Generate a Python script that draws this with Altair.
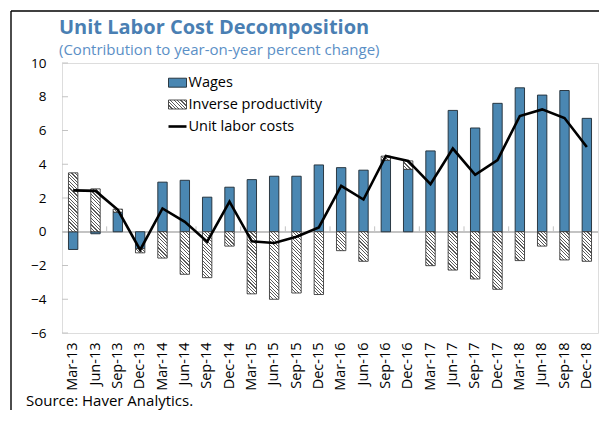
import math
import altair as alt
import pandas as pd

# ---------------- data ----------------
categories = ["Mar-13", "Jun-13", "Sep-13", "Dec-13", "Mar-14", "Jun-14", "Sep-14", "Dec-14",
              "Mar-15", "Jun-15", "Sep-15", "Dec-15", "Mar-16", "Jun-16", "Sep-16", "Dec-16",
              "Mar-17", "Jun-17", "Sep-17", "Dec-17", "Mar-18", "Jun-18", "Sep-18", "Dec-18"]
wages = [-1.05, -0.12, 1.16, -1.00, 2.94, 3.05, 2.05, 2.64, 3.09, 3.29, 3.29, 3.96,
         3.80, 3.65, 4.24, 3.70, 4.79, 7.19, 6.15, 7.61, 8.53, 8.10, 8.37, 6.72]
inverse_productivity = [3.49, 2.54, 0.18, -0.25, -1.56, -2.52, -2.72, -0.85, -3.68, -4.00, -3.63, -3.72,
                        -1.12, -1.75, 0.24, 0.50, -2.01, -2.27, -2.80, -3.41, -1.71, -0.85, -1.67, -1.75]
unit_labor_costs = [2.45, 2.42, 1.30, -1.08, 1.38, 0.59, -0.59, 1.79, -0.57, -0.67, -0.30, 0.26,
                    2.72, 1.91, 4.49, 4.20, 2.82, 4.93, 3.37, 4.24, 6.86, 7.25, 6.74, 5.02]
y_ticks = [-6, -4, -2, 0, 2, 4, 6, 8, 10]
legend_labels = ["Wages", "Inverse productivity", "Unit labor costs"]
title_text = "Unit Labor Cost Decomposition"
subtitle_text = "(Contribution to year-on-year percent change)"
source_text = "Source: Haver Analytics."

# ---------------- layout ----------------
W, H = 536, 270
YMIN, YMAX = -6, 10
PX = H / (YMAX - YMIN)
STEP = W / len(categories)
PAD_IN = 0.58
BW = STEP * (1 - PAD_IN)
FONT = "Open Sans"
BLUE = "#4a87b2"
TITLE_BLUE = "#4a7fb3"
SUB_BLUE = "#5b8fc6"
GRAY = "#c3c3c3"

# stacking like Excel (positives and negatives stacked separately)
rows = []
for c, w, p, u in zip(categories, wages, inverse_productivity, unit_labor_costs):
    pos = max(w, 0)
    neg = min(w, 0)
    if p >= 0:
        p0, p1 = pos, pos + p
    else:
        p0, p1 = neg, neg + p
    rows.append(dict(cat=c, w0=0.0, w1=w, p0=p0, p1=p1, ulc=u))
df = pd.DataFrame(rows)


def hatch(w, h, period=3.4, dark=0.34, bg="#ffffff", line="#5a5a5a"):
    """diagonal hatch as a sharp-stop linear gradient (stripes run top-left -> bottom-right)."""
    h = max(h, 0.5)
    s = (w + h) / (w * w + h * h)
    n = (w + h) / period
    stops = []
    k = 0
    while k / n < 1:
        a = k / n
        b = min((k + dark) / n, 1)
        c = min((k + 1) / n, 1)
        stops += [alt.GradientStop(offset=a, color=line), alt.GradientStop(offset=b, color=line),
                  alt.GradientStop(offset=b, color=bg), alt.GradientStop(offset=c, color=bg)]
        k += 1
    return alt.LinearGradient(gradient="linear", x1=0, y1=1, x2=w * s, y2=1 - h * s, stops=stops)


xenc = alt.X("cat:N", sort=categories,
             scale=alt.Scale(domain=categories, paddingInner=PAD_IN, paddingOuter=PAD_IN / 2),
             axis=alt.Axis(title=None, labelAngle=270, labelFontSize=14.5, labelFont=FONT,
                           labelColor="black", labelPadding=9, ticks=False, domain=False,
                           grid=False, labelOverlap=False))
yscale = alt.Scale(domain=[YMIN, YMAX], nice=False, zero=False)
yaxis = alt.Axis(title=None, values=y_ticks, tickCount=len(y_ticks), labelFontSize=13.5,
                 labelFont=FONT, labelColor="black", labelPadding=16, ticks=False,
                 domain=False, grid=False, labelOverlap=False)

base = alt.Chart(df)

zero_line = base.mark_rule(color=GRAY, strokeWidth=1).encode(
    y=alt.datum(0, scale=yscale, axis=yaxis))

ytick_df = pd.DataFrame({"v": y_ticks})
yticks = alt.Chart(ytick_df).mark_rule(color=GRAY, strokeWidth=1).encode(
    x=alt.value(0), x2=alt.value(6), y=alt.Y("v:Q", scale=yscale, axis=yaxis))

xtick_df = pd.DataFrame({"cat": categories[2::2]})
xticks = alt.Chart(xtick_df).mark_rule(color=GRAY, strokeWidth=1, xOffset=-STEP / 2).encode(
    x=xenc, y=alt.datum(0, scale=yscale), y2=alt.datum(0.32))

wage_bars = base.mark_bar(fill=BLUE, stroke="#1e2a33", strokeWidth=0.9).encode(
    x=xenc, y=alt.Y("w1:Q", scale=yscale, axis=yaxis), y2="w0:Q")

hatch_layers = []
for c, p in zip(categories, inverse_productivity):
    hatch_layers.append(
        base.transform_filter(alt.FieldEqualPredicate(field="cat", equal=c))
        .mark_bar(fill=hatch(BW, abs(p) * PX), stroke="#3a3a3a", strokeWidth=0.9)
        .encode(x=xenc, y=alt.Y("p1:Q", scale=yscale, axis=yaxis), y2="p0:Q")
    )

ulc_line = base.mark_line(color="black", strokeWidth=2.6).encode(
    x=xenc, y=alt.Y("ulc:Q", scale=yscale, axis=yaxis))

# ---------------- legend (inside plot) ----------------
one = pd.DataFrame({"k": [0]})
LX0, LX1, LTX = 106.5, 124.5, 126.5
ROWS = [19.7, 41.5, 63.5]
leg_w = alt.Chart(one).mark_rect(fill=BLUE, stroke="#1e2a33", strokeWidth=0.9).encode(
    x=alt.value(LX0), x2=alt.value(LX1), y=alt.value(ROWS[0] - 4.5), y2=alt.value(ROWS[0] + 4.5))
leg_p = alt.Chart(one).mark_rect(fill=hatch(LX1 - LX0, 9), stroke="#3a3a3a", strokeWidth=0.9).encode(
    x=alt.value(LX0), x2=alt.value(LX1), y=alt.value(ROWS[1] - 4.5), y2=alt.value(ROWS[1] + 4.5))
leg_l = alt.Chart(one).mark_rule(color="black", strokeWidth=2.6).encode(
    x=alt.value(LX0), x2=alt.value(LX1), y=alt.value(ROWS[2]))
leg_text = [
    alt.Chart(pd.DataFrame({"t": [lab]})).mark_text(
        align="left", baseline="middle", font=FONT, fontSize=14.5, color="black").encode(
        x=alt.value(LTX), y=alt.value(yy), text="t:N")
    for lab, yy in zip(legend_labels, ROWS)
]

# ---------------- titles, source, frame ----------------
title = alt.Chart(pd.DataFrame({"t": [title_text]})).mark_text(
    align="left", baseline="alphabetic", font=FONT, fontSize=20, fontWeight="bold",
    color=TITLE_BLUE).encode(x=alt.value(-3), y=alt.value(-29.5), text="t:N")
subtitle = alt.Chart(pd.DataFrame({"t": [subtitle_text]})).mark_text(
    align="left", baseline="alphabetic", font=FONT, fontSize=15, color=SUB_BLUE).encode(
    x=alt.value(-3), y=alt.value(-8), text="t:N")
source = alt.Chart(pd.DataFrame({"t": [source_text]})).mark_text(
    align="left", baseline="alphabetic", font=FONT, fontSize=15, color="black").encode(
    x=alt.value(-36), y=alt.value(343), text="t:N")
frame_top = alt.Chart(one).mark_rule(color="black", strokeWidth=1.4).encode(
    x=alt.value(-51), x2=alt.value(537), y=alt.value(-52))
frame_left = alt.Chart(one).mark_rule(color="black", strokeWidth=1.4).encode(
    x=alt.value(-51), y=alt.value(-52), y2=alt.value(347))

chart = alt.layer(
    zero_line, yticks, xticks, wage_bars, *hatch_layers, ulc_line,
    leg_w, leg_p, leg_l, *leg_text, title, subtitle, source, frame_top, frame_left
).properties(
    width=W, height=H, padding={"left": 2, "top": 2, "right": 0, "bottom": 0}
).configure_view(stroke=GRAY, strokeWidth=1).configure(background="white")

chart.save("out.html", embed_options={"renderer": "svg", "actions": False})
